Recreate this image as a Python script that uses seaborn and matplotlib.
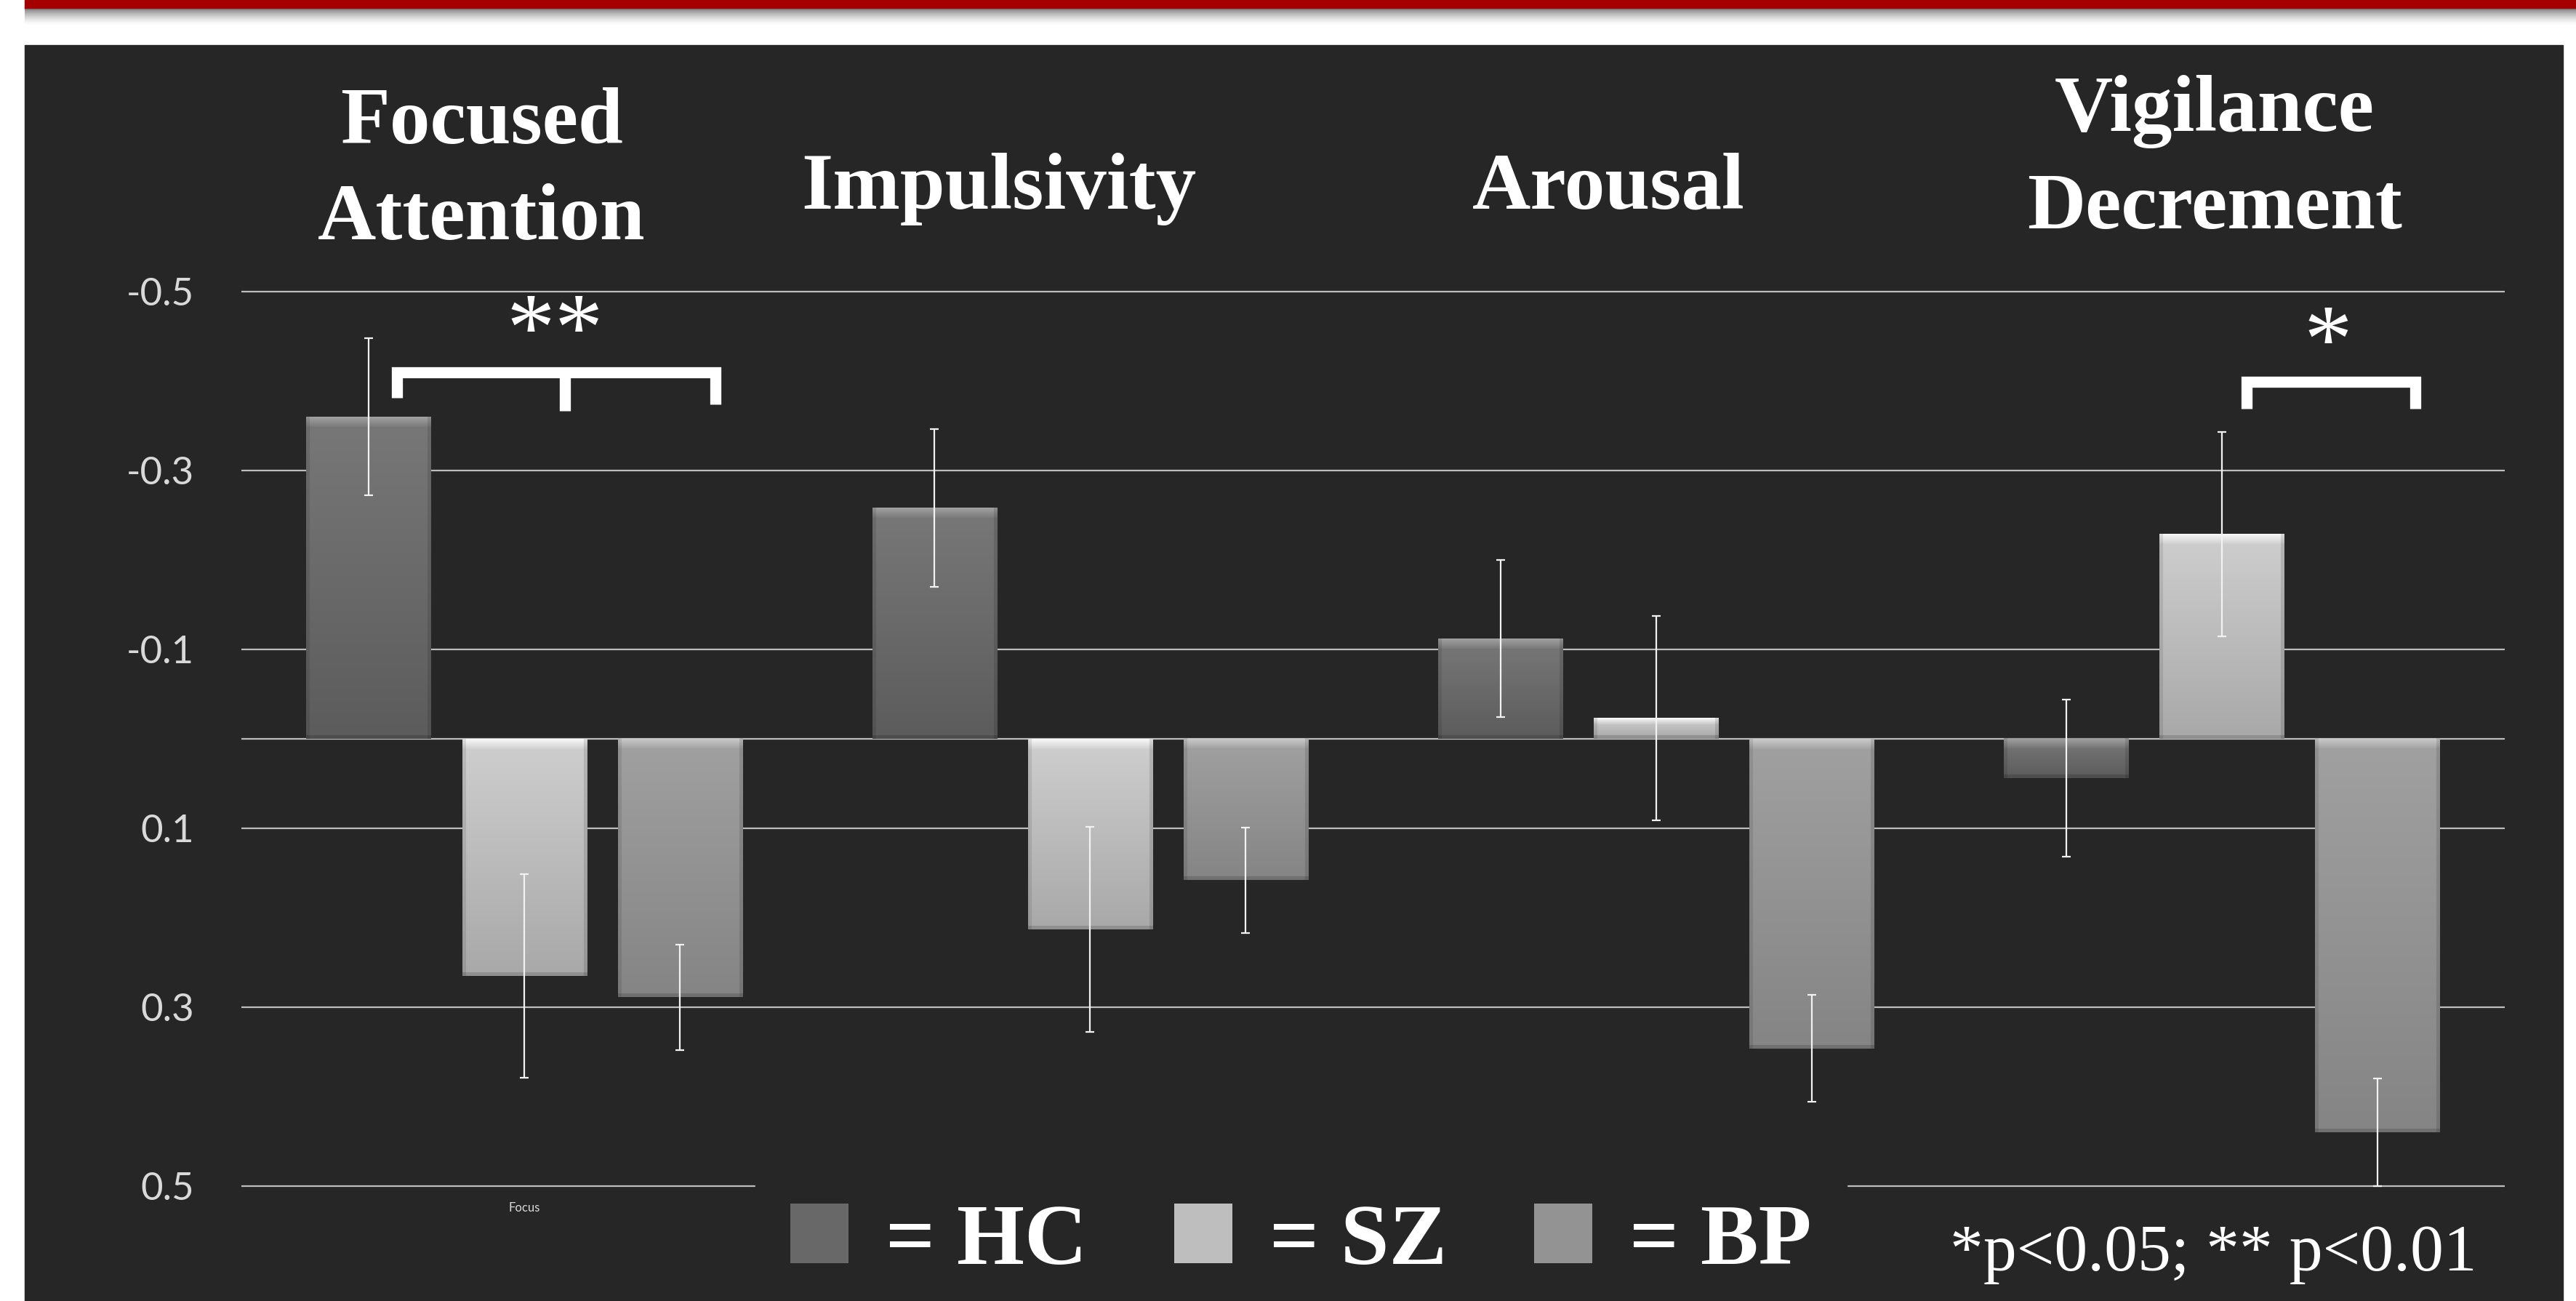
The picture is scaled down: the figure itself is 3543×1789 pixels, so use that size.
import numpy as np
import pandas as pd
import matplotlib
matplotlib.use("Agg")
import matplotlib.pyplot as plt
import seaborn as sns
from matplotlib.patches import Rectangle, Patch
from matplotlib.font_manager import FontProperties

# =====================================================
# Data
# =====================================================

categories = ["Focused\nAttention", "Impulsivity", "Arousal", "Vigilance\nDecrement"]
groups = ["HC", "SZ", "BP"]

hc_values = [-0.360, -0.258, -0.112, 0.044]
sz_values = [0.265, 0.213, -0.023, -0.229]
bp_values = [0.289, 0.158, 0.346, 0.440]

hc_errors = [0.088, 0.088, 0.088, 0.088]
sz_errors = [0.114, 0.115, 0.114, 0.114]
bp_errors = [0.059, 0.059, 0.060, 0.060]

tick_labels = ["Focus", "", "", ""]
y_ticks = [-0.5, -0.3, -0.1, 0.1, 0.3, 0.5]
legend_labels = ["= HC", "= SZ", "= BP"]
note_text = "*p<0.05; ** p<0.01"

# =====================================================
# Styles
# =====================================================

BG = "#262626"
GRID = "#bdbdbd"
palette = {"HC": "#686868", "SZ": "#bebebe", "BP": "#939393"}
shades = {
    "HC": ((0.47, 0.47, 0.47), (0.36, 0.36, 0.36)),
    "SZ": ((0.81, 0.81, 0.81), (0.66, 0.66, 0.66)),
    "BP": ((0.63, 0.63, 0.63), (0.52, 0.52, 0.52)),
}

sns.set_theme(style="dark", rc={"axes.facecolor": BG, "figure.facecolor": "white"})
plt.rcParams["font.family"] = ["Lato", "DejaVu Sans"]
serif_bold = ["Liberation Serif", "DejaVu Serif"]

df = pd.DataFrame({
    "category": categories * 3,
    "group": [g for g in groups for _ in categories],
    "value": hc_values + sz_values + bp_values,
    "error": hc_errors + sz_errors + bp_errors,
})

# =====================================================
# Figure and background panel
# =====================================================

W, H = 3543, 1789
fig = plt.figure(figsize=(W / 100, H / 100), dpi=100, facecolor="white")

fig.patches.append(Rectangle((34 / W, 0), (3525 - 34) / W, 1 - 62 / H,
                             transform=fig.transFigure, color=BG, zorder=-5))
fig.patches.append(Rectangle((34 / W, 1 - 12 / H), 1 - 34 / W, 12 / H,
                             transform=fig.transFigure, color="#a50000", zorder=-4))
for i in range(22):
    fig.patches.append(Rectangle((34 / W, 1 - (13 + i) / H), 1 - 34 / W, 1 / H,
                                 transform=fig.transFigure, color="#7a7a7a",
                                 alpha=0.9 * (1 - i / 22) ** 1.5, lw=0, zorder=-4))

y_lo, y_hi = -0.51, 0.51
top_px = 1016 + y_lo * 1230
bot_px = 1016 + y_hi * 1230
ax = fig.add_axes([332 / W, 1 - bot_px / H, (3445 - 332) / W, (bot_px - top_px) / H])
ax.set_facecolor(BG)

# =====================================================
# Bars
# =====================================================

sns.barplot(
    data=df, x="category", y="value", hue="group",
    order=categories, hue_order=groups, palette=palette,
    width=0.825, gap=0.2, errorbar=None, legend=False,
    saturation=1, linewidth=0, ax=ax, zorder=3,
)

ax.set_xlim(-0.5, 3.5)
ax.set_ylim(y_hi, y_lo)

px_y = abs(ax.transData.transform((0, 1))[1] - ax.transData.transform((0, 0))[1])
px_x = abs(ax.transData.transform((1, 0))[0] - ax.transData.transform((0, 0))[0])

for group, container in zip(groups, ax.containers):
    top_c, bot_c = shades[group]
    errs = df[df["group"] == group]["error"].values
    vals = df[df["group"] == group]["value"].values
    centers = []
    for patch in container:
        x0, w = patch.get_x(), patch.get_width()
        y0, h = patch.get_y(), patch.get_height()
        centers.append(x0 + w / 2)
        y_top, y_bot = min(y0, y0 + h), max(y0, y0 + h)
        rows = max(int(round((y_bot - y_top) * px_y)), 4)
        cols = max(int(round(w * px_x)), 4)
        t = np.linspace(0, 1, rows)[:, None, None]
        img = np.array(top_c)[None, None, :] * (1 - t) + np.array(bot_c)[None, None, :] * t
        img = np.repeat(img, cols, axis=1)
        # soft bevel: light band fading down from the top edge
        bev = min(14, rows // 3)
        fade = np.linspace(0.16, 0.02, bev)[:, None, None]
        img[:bev] = np.clip(img[:bev] + fade, 0, 1)
        img[-5:] = img[-5:] * 0.85
        img[:, :5] = img[:, :5] * 0.9
        img[:, -5:] = img[:, -5:] * 0.88
        ax.imshow(img, extent=(x0, x0 + w, y_bot, y_top), origin="upper",
                  aspect="auto", interpolation="bilinear", zorder=3.5)
    ax.errorbar(centers, vals, yerr=errs, fmt="none", ecolor="#f2f2f2",
                elinewidth=1.6, capsize=4.5, capthick=1.6, zorder=5)

ax.set_xlim(-0.5, 3.5)
ax.set_ylim(y_hi, y_lo)

# =====================================================
# Axes styling
# =====================================================

ax.set_yticks(y_ticks)
ax.set_yticklabels([f"{v:.1f}" for v in y_ticks])
ax.yaxis.grid(True, color=GRID, lw=1.6)
ax.axhline(0, color=GRID, lw=1.6, zorder=2)
ax.set_axisbelow(True)
ax.tick_params(axis="y", length=0, pad=47, labelsize=38, labelcolor="#d9d9d9")
ax.set_xticks(range(len(categories)))
ax.set_xticklabels(tick_labels)
ax.tick_params(axis="x", length=0, pad=7, labelsize=12, labelcolor="#d9d9d9")
ax.set_xlabel("")
ax.set_ylabel("")
for s in ax.spines.values():
    s.set_visible(False)

# =====================================================
# Significance brackets
# =====================================================

ax.plot([-0.225, -0.225, 0.338, 0.338], [-0.381, -0.41, -0.41, -0.374],
        color="white", lw=11, solid_joinstyle="miter", solid_capstyle="butt", zorder=6)
ax.plot([0.072, 0.072], [-0.41, -0.367], color="white", lw=11,
        solid_capstyle="butt", zorder=6)
ax.text(0.054, -0.45, "**", ha="center", va="center", color="white",
        fontsize=96, family=serif_bold, zorder=6)

ax.plot([3.044, 3.044, 3.342, 3.342], [-0.369, -0.399, -0.399, -0.369],
        color="white", lw=11, solid_joinstyle="miter", solid_capstyle="butt", zorder=6)
ax.text(3.188, -0.437, "*", ha="center", va="center", color="white",
        fontsize=96, family=serif_bold, zorder=6)

# =====================================================
# Category titles
# =====================================================

title_kw = dict(color="white", fontsize=80, fontweight="bold", family=serif_bold,
                ha="center", linespacing=1.42)
fig.text(662 / W, 0.868, categories[0], va="center", **title_kw)
fig.text(1374 / W, 1 - 287 / H, categories[1], va="baseline", **title_kw)
fig.text(2212 / W, 1 - 287 / H, categories[2], va="baseline", **title_kw)
fig.text(3046 / W, 0.877, categories[3], va="center", **title_kw)

# =====================================================
# Legend and note
# =====================================================

handles = [Patch(facecolor=palette[g], edgecolor="none") for g in groups]
fig.legend(
    handles, legend_labels, loc="center left",
    bbox_to_anchor=((1087 - 48) / W, 1 - 1709 / H), ncol=3,
    prop=FontProperties(family="Liberation Serif", weight="bold", size=86),
    labelcolor="white", frameon=True, facecolor=BG, edgecolor=BG, framealpha=1,
    handlelength=0.67, handleheight=0.67, handletextpad=0.43,
    columnspacing=1.0, borderpad=0.4, borderaxespad=0, fancybox=False,
)

fig.text(2682 / W, 1 - 1747 / H, note_text, ha="left", va="baseline",
         color="white", fontsize=66, family=["Liberation Serif", "DejaVu Serif"])

fig.savefig("out.png", dpi=100, facecolor="white")
